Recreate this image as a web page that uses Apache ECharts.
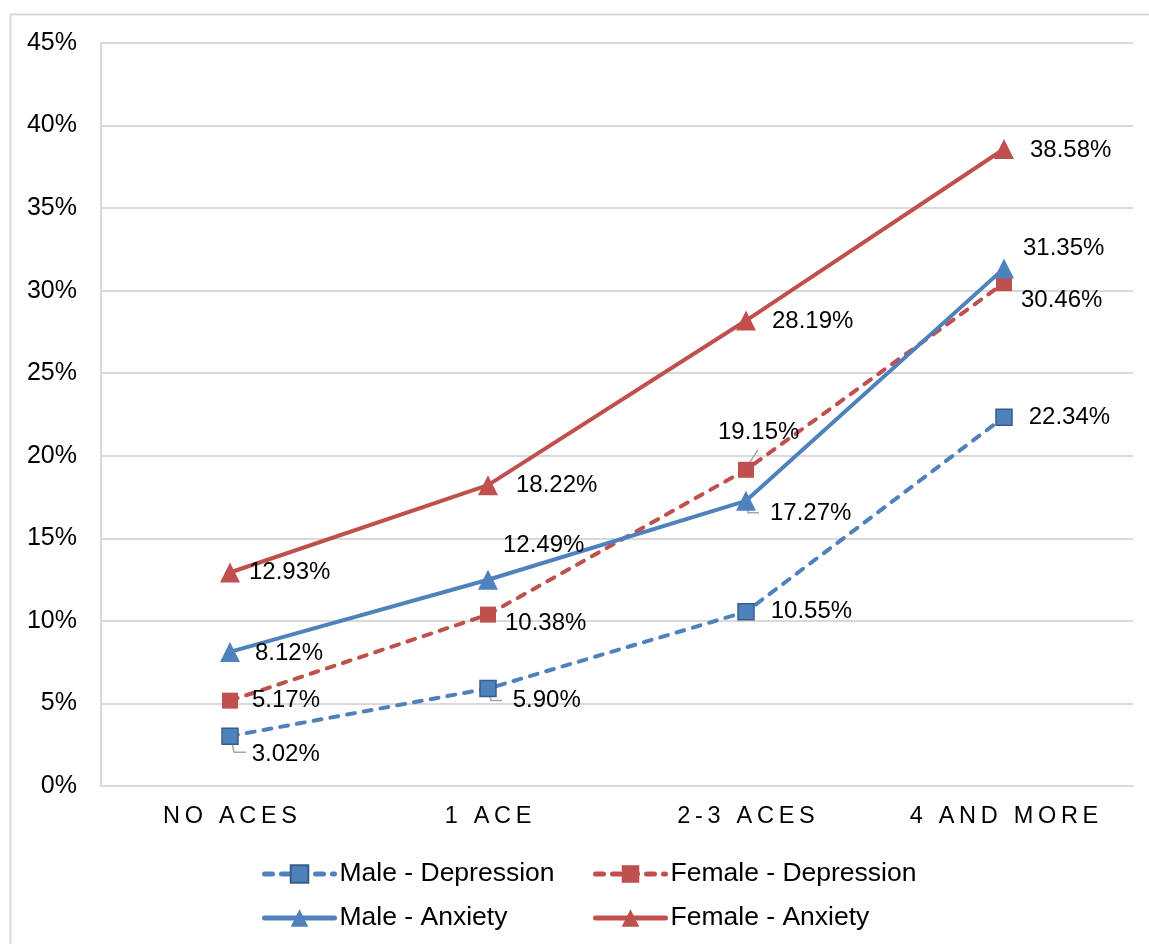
<!DOCTYPE html>
<html>
<head>
<meta charset="utf-8">
<script src="https://cdn.jsdelivr.net/npm/echarts@6/dist/echarts.min.js"></script>
<style>
html,body{margin:0;padding:0;background:#fff;}
#chart{width:1149px;height:944px;}
</style>
</head>
<body>
<div id="chart"></div>
<script>
const categories = ['NO ACES', '1 ACE', '2-3 ACES', '4 AND MORE'];
const maleDepression = [3.02, 5.90, 10.55, 22.34];
const femaleDepression = [5.17, 10.38, 19.15, 30.46];
const maleAnxiety = [8.12, 12.49, 17.27, 31.35];
const femaleAnxiety = [12.93, 18.22, 28.19, 38.58];
const yTicks = [0, 5, 10, 15, 20, 25, 30, 35, 40, 45];

const FONT = '"Liberation Sans", Arial, sans-serif';
const BLUE = '#4F81BD';
const RED = '#C0504D';

// per-point label offsets (pixels)
const offMD = [[4, 18], [7, 12], [7, 0], [7, 0]];
const offFD = [[5, 0], [0, 9], [-45, -37], [0, 17]];
const offMA = [[6, 1], [-4, -34], [5, 13], [0, -20]];
const offFA = [[0, 0], [9, 0], [7, 1], [7, 1]];

function spaced(s) { return s.split('').join('\u2009'); }

function mkData(vals, offs) {
  return vals.map((v, i) => ({
    value: v,
    label: { offset: offs[i] }
  }));
}

const labelBase = {
  show: true,
  position: 'right',
  distance: 9,
  color: '#000',
  fontSize: 24,
  fontFamily: FONT,
  formatter: p => p.value.toFixed(2) + '%'
};

function series(name, vals, offs, color, dashed, symbol, size, border) {
  return {
    name: name,
    type: 'line',
    data: mkData(vals, offs),
    symbol: symbol,
    symbolSize: size,
    lineStyle: { color: color, width: 4, type: dashed ? [8, 9] : 'solid', cap: dashed ? 'round' : 'butt' },
    itemStyle: { color: color, borderColor: border || color, borderWidth: border ? 1.5 : 0 },
    label: labelBase,
    emphasis: { disabled: true },
    animation: false,
    z: 3
  };
}

const chart = echarts.init(document.getElementById('chart'));
const legendText = { fontSize: 26.5, fontFamily: FONT, color: '#000', lineHeight: 28 };
const legendCommon = {
  orient: 'vertical', top: 860, padding: 0,
  itemWidth: 70, itemHeight: 22, itemGap: 16, itemTextGap: 8,
  textStyle: legendText, selectedMode: false,
  lineStyle: { width: 5, cap: 'round' }
};
chart.setOption({
  backgroundColor: '#fff',
  animation: false,
  grid: { left: 101, right: 16, top: 43, bottom: 158, containLabel: false },
  xAxis: {
    type: 'category',
    data: categories,
    boundaryGap: true,
    axisLine: { lineStyle: { color: '#d9d9d9', width: 2 } },
    axisTick: { show: false },
    axisLabel: { fontSize: 23.5, fontFamily: FONT, color: '#000', margin: 19, formatter: v => spaced(v) },
    splitLine: { show: false }
  },
  yAxis: {
    type: 'value',
    min: yTicks[0],
    max: yTicks[yTicks.length - 1],
    interval: yTicks[1] - yTicks[0],
    axisLine: { show: true, lineStyle: { color: '#d9d9d9', width: 2 } },
    axisTick: { show: false },
    axisLabel: { fontSize: 25, fontFamily: FONT, color: '#000', margin: 24, formatter: '{value}%' },
    splitLine: { lineStyle: { color: '#d9d9d9', width: 2 } }
  },
  legend: [
    Object.assign({}, legendCommon, { left: 262, data: ['Male - Depression', 'Male - Anxiety'] }),
    Object.assign({}, legendCommon, { left: 593, data: ['Female - Depression', 'Female - Anxiety'] })
  ],
  series: [
    series('Male - Depression', maleDepression, offMD, BLUE, true, 'rect', 16, '#385D8A'),
    series('Female - Depression', femaleDepression, offFD, RED, true, 'rect', 16, null),
    series('Male - Anxiety', maleAnxiety, offMA, BLUE, false, 'triangle', 20, null),
    series('Female - Anxiety', femaleAnxiety, offFA, RED, false, 'triangle', 20, null)
  ]
});

// leader lines, anchored at data points via the chart's own scales
const leaders = [
  { s: maleDepression, i: 0, pts: [[1, 2], [4, 16], [16, 16]] },
  { s: maleDepression, i: 1, pts: [[1, 2], [3, 12], [14, 12]] },
  { s: maleAnxiety, i: 2, pts: [[1, 3], [2, 12], [13, 12]] },
  { s: femaleDepression, i: 2, pts: [[0, -2], [12, -20]] },
  { s: maleAnxiety, i: 1, pts: [[1, -1], [55, -17]] }
];
const graphics = [{
  type: 'rect', left: 8, top: 12, z: 0, silent: true,
  shape: { width: 1160, height: 960 },
  style: { fill: 'none', stroke: '#d9d9d9', lineWidth: 2 }
}];
leaders.forEach(l => {
  const p = chart.convertToPixel({ gridIndex: 0 }, [categories[l.i], l.s[l.i]]);
  graphics.push({
    type: 'polyline', z: 2, silent: true,
    shape: { points: l.pts.map(d => [p[0] + d[0], p[1] + d[1]]) },
    style: { stroke: '#a6a6a6', lineWidth: 1.5, fill: 'none' }
  });
});
chart.setOption({ graphic: graphics });
</script>
</body>
</html>
